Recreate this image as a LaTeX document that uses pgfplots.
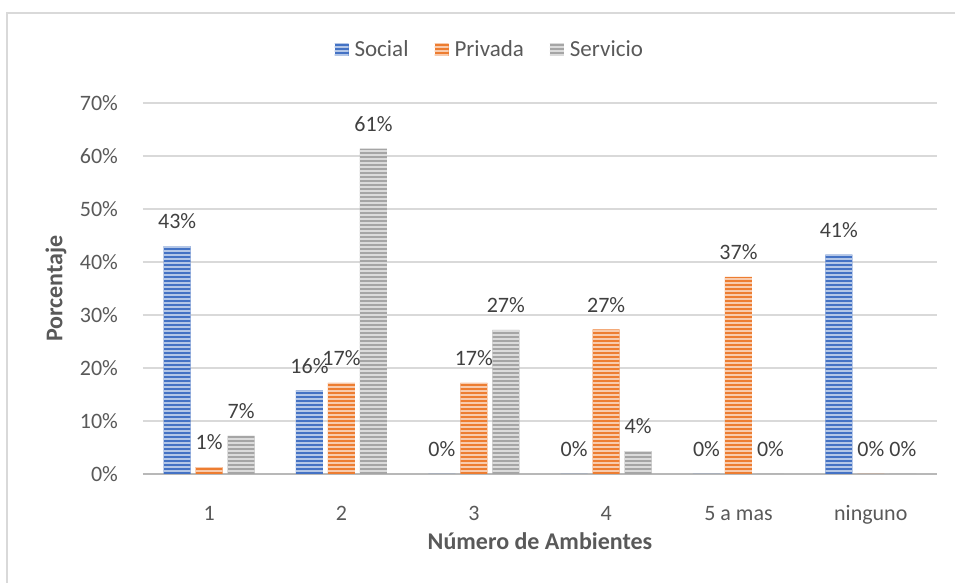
\documentclass[border=0pt]{standalone}
\usepackage{pgfplots}
\pgfplotsset{compat=1.18}
\usetikzlibrary{patterns.meta}
\usepackage{fontspec}
\setmainfont{Carlito}

\definecolor{cSocial}{HTML}{4472C4}
\definecolor{cPrivada}{HTML}{ED7D31}
\definecolor{cServicio}{HTML}{A5A5A5}
\definecolor{txt}{HTML}{595959}
\definecolor{lbl}{HTML}{404040}
\definecolor{gridc}{HTML}{D9D9D9}

\tikzset{
  stripes/.style={postaction={pattern={Lines[angle=0,distance=2pt,line width=0.8pt]},pattern color=#1}},
}

\begin{document}
\begin{tikzpicture}
\path[use as bounding box] (0,0) rectangle (477.5pt,291.5pt);
\draw[gridc, line width=0.6pt] (3.5pt,285pt) rectangle (500pt,-20pt);
\begin{axis}[
    at={(71.5pt,54.5pt)}, anchor=south west,
    scale only axis,
    width=397pt, height=185.5pt,
    ybar=2.5pt, bar width=13.5pt,
    xmin=-0.5, xmax=5.5,
    ymin=0, ymax=70,
    xtick={0,1,2,3,4,5},
    xticklabels={1,2,3,4,5 a mas,ninguno},
    ytick={0,10,20,30,40,50,60,70},
    yticklabels={0\%,10\%,20\%,30\%,40\%,50\%,60\%,70\%},
    axis x line*=bottom,
    axis y line*=left,
    x axis line style={draw=gridc!85!black, line width=1.3pt, -},
    y axis line style={draw=none},
    tick style={draw=none},
    ymajorgrids,
    major grid style={gridc, line width=0.7pt},
    ticklabel style={font=\fontsize{11}{13}\selectfont, text=txt},
    yticklabel style={anchor=east, xshift=-9pt},
    xticklabel style={anchor=base, yshift=-19pt},
    xlabel={\textbf{Número de Ambientes}},
    ylabel={\textbf{Porcentaje}},
    xlabel style={at={(axis description cs:0.5,0)}, anchor=base, yshift=-38pt,
                  font=\fontsize{12}{14}\selectfont, text=txt},
    ylabel style={at={(axis description cs:-0.1096,0.5)}, anchor=center,
                  font=\fontsize{12}{14}\selectfont, text=txt},
    nodes near coords={\pgfmathprintnumber[fixed,precision=0,assume math mode=true]{\pgfplotspointmeta}\%},
    every node near coord/.append style={font=\fontsize{11}{13}\selectfont, text=lbl, yshift=5pt},
    legend style={at={(0.438,1.143)}, anchor=center, draw=none, fill=none,
                  font=\fontsize{11.5}{13}\selectfont, text=txt,
                  legend columns=-1,
                  /tikz/every odd column/.append style={column sep=1pt},
                  /tikz/every even column/.append style={column sep=11pt}},
    legend image code/.code={\draw[#1,draw=none] (0pt,-3pt) rectangle (7pt,3pt);},
]
\addplot[fill=cSocial, draw=none, stripes=cSocial!40!white] coordinates {
(0,43.0)(1,15.8)(2,0)(3,0)(4,0)(5,41.4)
};
\addplot[fill=cPrivada, draw=none, stripes=cPrivada!40!white] coordinates {
(0,1.3)(1,17.2)(2,17.2)(3,27.3)(4,37.2)(5,0)
};
\addplot[fill=cServicio, draw=none, stripes=cServicio!40!white] coordinates {
(0,7.2)(1,61.4)(2,27.2)(3,4.3)(4,0)(5,0)
};
\legend{Social,Privada,Servicio}
\end{axis}
\end{tikzpicture}
\end{document}
